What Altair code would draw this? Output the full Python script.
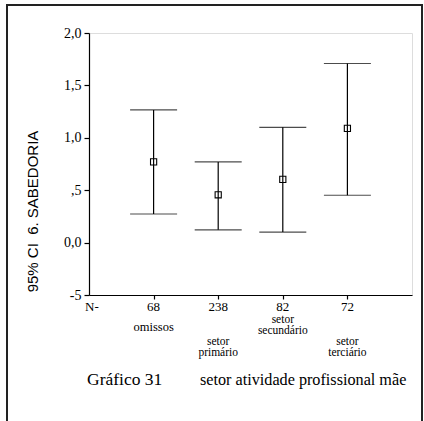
import altair as alt
import pandas as pd

# Error-bar summary per group (mean and 95% confidence interval)
categories = ["omissos", "setor\nprimário", "setor\nsecundário", "setor\nterciário"]
n_counts = ["68", "238", "82", "72"]
means = [0.77, 0.456, 0.603, 1.09]
ci_low = [0.273, 0.122, 0.10, 0.452]
ci_high = [1.266, 0.77, 1.10, 1.709]

y_ticks = [-0.5, 0.0, 0.5, 1.0, 1.5, 2.0]
y_tick_labels = ["-5", "0,0", ",5", "1,0", "1,5", "2,0"]

y_title = "95% CI \u00a06. SABEDORIA"
chart_title = "Gráfico 31"
x_title = "setor atividade profissional mãe"

df = pd.DataFrame({
    "idx": list(range(1, len(categories) + 1)),
    "cat": categories,
    "n": n_counts,
    "mean": means,
    "lo": ci_low,
    "hi": ci_high,
})

label_map = "{" + ",".join("'%g':'%s'" % (v, t) for v, t in zip(y_ticks, y_tick_labels)) + "}"

xs = alt.Scale(domain=[0, len(categories) + 1], nice=False, zero=False)
ys = alt.Scale(domain=[y_ticks[0], y_ticks[-1]], nice=False, zero=False)

serif = "Liberation Serif"
ink = "black"
lw = 1.2

base = alt.Chart(df)

x_enc = alt.X("idx:Q", scale=xs, axis=alt.Axis(
    values=list(range(1, len(categories) + 1)), labels=False, title=None,
    grid=False, tickSize=4, tickColor=ink, domainColor=ink, tickWidth=lw,
    domainWidth=lw))

y_axis = alt.Axis(
    values=y_ticks, labelExpr=label_map + "[''+datum.value]",
    grid=False, tickSize=5, tickColor=ink, domainColor=ink, tickWidth=lw,
    domainWidth=lw,
    labelFont=serif, labelFontSize=14, labelColor=ink, labelPadding=3,
    title=y_title, titleFont="Liberation Sans", titleFontSize=15,
    titleFontWeight="normal", titleColor=ink, titleAngle=270,
    titleX=-57, titleY=178, titleAlign="center", titleBaseline="middle")

whisker = base.mark_rule(color=ink, strokeWidth=lw).encode(
    x=x_enc, y=alt.Y("lo:Q", scale=ys, axis=y_axis), y2="hi:Q")

cap_lo = base.mark_tick(orient="horizontal", size=47, thickness=lw, color=ink).encode(
    x=alt.X("idx:Q", scale=xs), y=alt.Y("lo:Q", scale=ys))
cap_hi = base.mark_tick(orient="horizontal", size=47, thickness=lw, color=ink).encode(
    x=alt.X("idx:Q", scale=xs), y=alt.Y("hi:Q", scale=ys))

centre = base.mark_point(shape="square", filled=False, size=38, color=ink,
                         strokeWidth=1.1, opacity=1).encode(
    x=alt.X("idx:Q", scale=xs), y=alt.Y("mean:Q", scale=ys))

n_text = base.mark_text(font=serif, fontSize=13, color=ink, baseline="middle").encode(
    x=alt.X("idx:Q", scale=xs), y=alt.value(274), text="n:N")

# group labels alternate between two rows; multi-line labels are lifted so
# that each label block is centred on its row
label_style = dict(font=serif, fontSize=11.5, color=ink, baseline="middle",
                   lineBreak="\n", lineHeight=11)
single = "indexof(datum.cat, '\\n') < 0"
multi = "indexof(datum.cat, '\\n') >= 0"
cat_upper_single = base.transform_filter("datum.idx % 2 == 1").transform_filter(single).mark_text(
    **dict(label_style, fontSize=12.5)).encode(
    x=alt.X("idx:Q", scale=xs), y=alt.value(294), text="cat:N")
cat_upper_multi = base.transform_filter("datum.idx % 2 == 1").transform_filter(multi).mark_text(
    **label_style).encode(
    x=alt.X("idx:Q", scale=xs), y=alt.value(287), text="cat:N")
cat_lower_multi = base.transform_filter("datum.idx % 2 == 0").mark_text(**label_style).encode(
    x=alt.X("idx:Q", scale=xs), y=alt.value(308.5), text="cat:N")

one = pd.DataFrame({"t": ["N-"]})
n_head = alt.Chart(one).mark_text(font=serif, fontSize=13, color=ink,
                                  align="left", baseline="middle").encode(
    x=alt.value(-4), y=alt.value(274), text="t:N")

title_a = alt.Chart(pd.DataFrame({"t": [chart_title]})).mark_text(
    font=serif, fontSize=17.5, color=ink, align="left", baseline="middle").encode(
    x=alt.value(-2), y=alt.value(347), text="t:N")
title_b = alt.Chart(pd.DataFrame({"t": [x_title]})).mark_text(
    font=serif, fontSize=16.2, color=ink, align="left", baseline="middle").encode(
    x=alt.value(111), y=alt.value(347), text="t:N")

frame_src = pd.DataFrame({"k": [0]})
frame_style = dict(color="#222", strokeWidth=2)
frame_left = alt.Chart(frame_src).mark_rule(**frame_style).encode(
    x=alt.value(-82), y=alt.value(-29), y2=alt.value(400))
frame_right = alt.Chart(frame_src).mark_rule(**frame_style).encode(
    x=alt.value(333), y=alt.value(-29), y2=alt.value(400))
frame_top = alt.Chart(frame_src).mark_rule(**frame_style).encode(
    x=alt.value(-83), x2=alt.value(334), y=alt.value(-28))

chart = alt.layer(
    whisker, cap_lo, cap_hi, centre, n_text, n_head,
    cat_upper_single, cat_upper_multi, cat_lower_multi,
    title_a, title_b, frame_left, frame_right, frame_top,
).properties(
    width=323, height=262,
    autosize=alt.AutoSizeParams(type="none"),
    padding={"left": 89, "top": 33, "right": 12, "bottom": 126},
).configure_view(stroke=ink, strokeWidth=lw).configure(background="white")

chart.save("out.html", embed_options={"renderer": "svg", "actions": False})
